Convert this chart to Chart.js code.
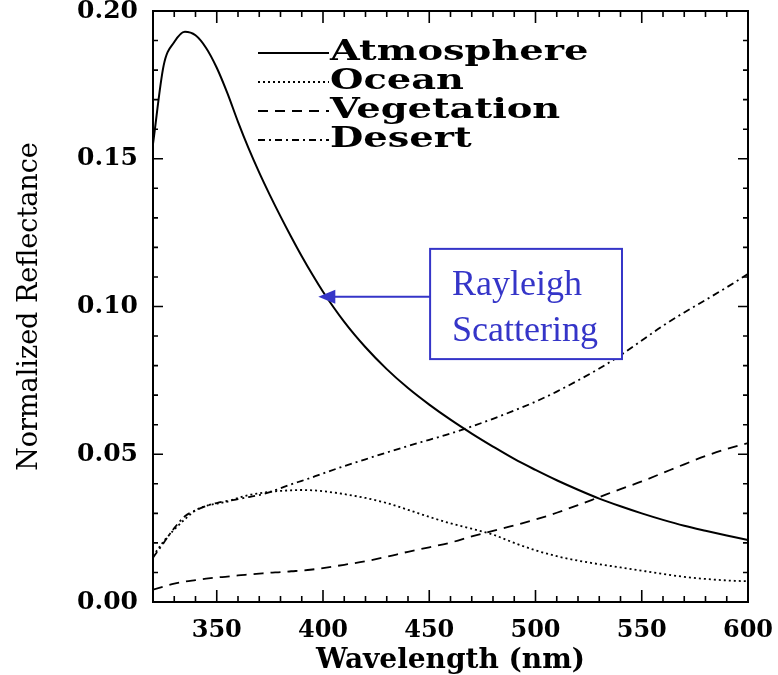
<!DOCTYPE html>
<html>
<head>
<meta charset="utf-8">
<script src="https://cdn.jsdelivr.net/npm/chart.js@4.4.1/dist/chart.umd.min.js"></script>
<style>
  body { margin: 0; background: #fff; }
  canvas { display: block; }
</style>
</head>
<body>
<canvas id="reflChart" width="778" height="675"></canvas>
<script>
// wavelengths (nm) shared by all four curves
const wavelength = [320, 325, 330, 335, 340, 345, 350, 355, 360, 365, 370, 375, 380, 385, 390, 395, 400,
    410, 420, 430, 440, 450, 460, 470, 480, 490, 500, 510, 520, 530, 540, 550, 560, 570, 580, 590, 600];

const atmosphere = [0.155, 0.1815, 0.1895, 0.193, 0.1918, 0.1875, 0.1808, 0.1722, 0.1625, 0.1535, 0.1453, 0.1377, 0.1305, 0.1236, 0.117, 0.1108, 0.105,
    0.0948, 0.0862, 0.0788, 0.0724, 0.0668, 0.0617, 0.057, 0.0526, 0.0484, 0.0447, 0.0412, 0.038, 0.035, 0.0324, 0.030, 0.0278, 0.0258, 0.0241, 0.0225, 0.021];

const ocean = [0.0155, 0.0205, 0.0245, 0.028, 0.031, 0.0325, 0.0333, 0.034, 0.0352, 0.0362, 0.0368, 0.0373, 0.0376, 0.0378, 0.0379, 0.0378, 0.0375,
    0.0365, 0.0352, 0.0335, 0.0312, 0.0288, 0.0266, 0.0248, 0.0228, 0.0200, 0.0175, 0.0155, 0.014, 0.0128, 0.0117, 0.0106, 0.0095, 0.0085, 0.0078, 0.0073, 0.007];

const vegetation = [0.0042, 0.0052, 0.0062, 0.0069, 0.0074, 0.0079, 0.0083, 0.0086, 0.009, 0.0093, 0.0096, 0.0099, 0.0101, 0.0104, 0.0106, 0.011, 0.0115,
    0.0126, 0.0138, 0.0153, 0.017, 0.0185, 0.0201, 0.0222, 0.0241, 0.0259, 0.0279, 0.0302, 0.0328, 0.0355, 0.0382, 0.0408, 0.0437, 0.0466, 0.0494, 0.0518, 0.0538];

const desert = [0.015, 0.020, 0.025, 0.029, 0.031, 0.0325, 0.0335, 0.0342, 0.0348, 0.0355, 0.0362, 0.0372, 0.0385, 0.0398, 0.041, 0.0422, 0.0435,
    0.046, 0.0483, 0.0506, 0.0528, 0.0549, 0.057, 0.0594, 0.062, 0.0648, 0.0678, 0.0712, 0.075, 0.079, 0.0835, 0.0885, 0.0935, 0.098, 0.1022, 0.1065, 0.111];

const seriesNames = ['Atmosphere', 'Ocean', 'Vegetation', 'Desert'];
const xTickLabels = [350, 400, 450, 500, 550, 600];
const yTickLabels = [0.00, 0.05, 0.10, 0.15, 0.20];

// "Rayleigh Scattering" note, in data units
const noteBox = { x0: 450.4, x1: 540.7, y0: 0.1195, y1: 0.0822 };
const noteArrowTip = { x: 397.8, y: 0.1033 };

const dashes = [[], [2, 3], [10, 7], [7, 4, 2, 4]];
const seriesData = [atmosphere, ocean, vegetation, desert];

const datasets = seriesData.map((vals, i) => ({
    label: seriesNames[i],
    data: wavelength.map((w, j) => ({ x: w, y: vals[j] })),
    borderColor: '#000',
    borderWidth: i === 0 ? 2 : 1.8,
    borderDash: dashes[i],
    pointRadius: 0,
    cubicInterpolationMode: 'monotone',
    fill: false
}));

const serif = '"DejaVu Serif", serif';

// inward tick marks on all four sides + top/right frame
const frameTicks = {
    id: 'frameTicks',
    afterDraw(chart) {
        const { ctx, chartArea: a, scales: { x, y } } = chart;
        ctx.save();
        ctx.strokeStyle = '#000';
        ctx.lineWidth = 2;
        ctx.beginPath();
        ctx.moveTo(a.left, a.top); ctx.lineTo(a.right, a.top); ctx.lineTo(a.right, a.bottom);
        ctx.stroke();
        ctx.lineWidth = 1.6;
        for (let w = 330; w < 600; w += 10) {
            const px = x.getPixelForValue(w);
            const len = w % 50 === 0 ? 12 : 6;
            ctx.beginPath();
            ctx.moveTo(px, a.bottom); ctx.lineTo(px, a.bottom - len);
            ctx.moveTo(px, a.top); ctx.lineTo(px, a.top + len);
            ctx.stroke();
        }
        for (let k = 1; k < 20; k++) {
            const py = y.getPixelForValue(k / 100);
            const len = k % 5 === 0 ? 10 : 5;
            ctx.beginPath();
            ctx.moveTo(a.left, py); ctx.lineTo(a.left + len, py);
            ctx.moveTo(a.right, py); ctx.lineTo(a.right - len, py);
            ctx.stroke();
        }
        ctx.restore();
    }
};

// legend in the IDL style: line sample then wide bold text
const idlLegend = {
    id: 'idlLegend',
    afterDraw(chart) {
        const ctx = chart.ctx;
        ctx.save();
        seriesNames.forEach((name, i) => {
            const base = 60 + i * 29;
            ctx.strokeStyle = '#000';
            ctx.lineWidth = i === 0 ? 2 : 1.8;
            ctx.setLineDash(dashes[i]);
            ctx.beginPath();
            ctx.moveTo(258, base - 7);
            ctx.lineTo(329, base - 7);
            ctx.stroke();
            ctx.setLineDash([]);
            ctx.save();
            ctx.translate(330, base);
            ctx.scale(1.37, 1);
            ctx.font = 'bold 28px ' + serif;
            ctx.fillStyle = '#000';
            ctx.textBaseline = 'alphabetic';
            ctx.fillText(name, 0, 0);
            ctx.restore();
        });
        ctx.restore();
    }
};

// blue callout box with arrow
const rayleighNote = {
    id: 'rayleighNote',
    afterDraw(chart) {
        const { ctx, scales: { x, y } } = chart;
        const blue = '#3535c8';
        const l = x.getPixelForValue(noteBox.x0), r = x.getPixelForValue(noteBox.x1);
        const t = y.getPixelForValue(noteBox.y0), b = y.getPixelForValue(noteBox.y1);
        const tx = x.getPixelForValue(noteArrowTip.x), ty = y.getPixelForValue(noteArrowTip.y);
        ctx.save();
        ctx.fillStyle = '#fff';
        ctx.fillRect(l, t, r - l, b - t);
        ctx.strokeStyle = blue;
        ctx.lineWidth = 2;
        ctx.strokeRect(l, t, r - l, b - t);
        ctx.beginPath();
        ctx.moveTo(l, ty);
        ctx.lineTo(tx + 15, ty);
        ctx.stroke();
        ctx.fillStyle = blue;
        ctx.beginPath();
        ctx.moveTo(tx, ty);
        ctx.lineTo(tx + 17, ty - 7);
        ctx.lineTo(tx + 17, ty + 7);
        ctx.closePath();
        ctx.fill();
        ctx.font = '36px "Liberation Serif", serif';
        ctx.textBaseline = 'alphabetic';
        ctx.fillText('Rayleigh', l + 22, t + 46);
        ctx.fillText('Scattering', l + 22, t + 92);
        ctx.restore();
    }
};

new Chart(document.getElementById('reflChart'), {
    type: 'line',
    data: { datasets: datasets },
    options: {
        responsive: false,
        animation: false,
        layout: { padding: { top: 11, right: 30, left: 0, bottom: 0 } },
        plugins: {
            legend: { display: false },
            tooltip: { enabled: false }
        },
        scales: {
            x: {
                type: 'linear',
                min: 320,
                max: 600,
                afterFit: s => { s.height = 73; s.paddingLeft = 0; s.paddingRight = 0; },
                afterBuildTicks: s => { s.ticks = xTickLabels.map(v => ({ value: v })); },
                grid: { display: false, drawTicks: false },
                border: { display: true, color: '#000', width: 2 },
                ticks: {
                    color: '#000',
                    padding: 14,
                    maxRotation: 0,
                    font: { family: serif, size: 24, weight: 'bold' }
                },
                title: {
                    display: true,
                    text: 'Wavelength (nm)',
                    color: '#000',
                    padding: { top: 0, bottom: 0 },
                    font: { family: serif, size: 28, weight: 'bold', lineHeight: 1.05 }
                }
            },
            y: {
                min: 0,
                max: 0.2,
                afterFit: s => { s.width = 153; s.paddingTop = 0; s.paddingBottom = 0; },
                afterBuildTicks: s => { s.ticks = yTickLabels.map(v => ({ value: v })); },
                grid: { display: false, drawTicks: false },
                border: { display: true, color: '#000', width: 2 },
                ticks: {
                    color: '#000',
                    padding: 15,
                    callback: v => Number(v).toFixed(2),
                    font: { family: serif, size: 25, weight: 'bold' }
                },
                title: {
                    display: true,
                    text: 'Normalized Reflectance',
                    color: '#000',
                    padding: { top: 14, bottom: 0 },
                    font: { family: serif, size: 27 }
                }
            }
        }
    },
    plugins: [frameTicks, idlLegend, rayleighNote]
});
</script>
</body>
</html>
